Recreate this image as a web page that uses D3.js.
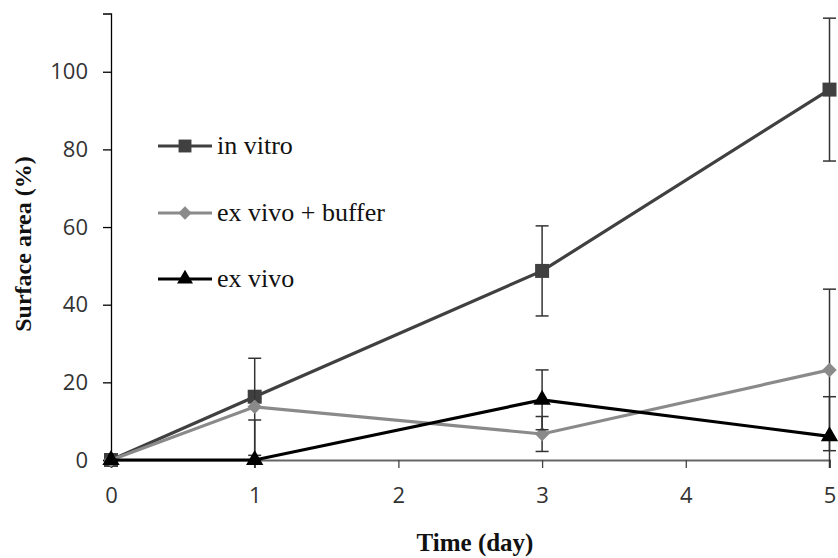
<!DOCTYPE html>
<html><head><meta charset="utf-8">
<script src="https://cdn.jsdelivr.net/npm/d3@7"></script>
<style>
html,body{margin:0;padding:0;background:#fff;}
svg{display:block;}
</style></head>
<body>
<svg id="chart" width="838" height="558"></svg>
<script>
// ---- data ----
const days = [0, 1, 3, 5];
const seriesNames = ["in vitro", "ex vivo + buffer", "ex vivo"];
const inVitro = [0, 16.3, 48.7, 95.4];
const inVitroErr = [0, 0.5, 11.6, 18.4];
const exVivoBuffer = [0, 13.7, 6.7, 23.2];
const exVivoBufferErr = [0, 12.5, 4.5, 20.8];
const exVivo = [0, 0, 15.5, 6.1];
const exVivoErr = [0, 10.3, 7.7, 10.2];
const xTicks = [0, 1, 2, 3, 4, 5];
const yTicks = [0, 20, 40, 60, 80, 100];
const yMax = 115;

// ---- layout ----
const svg = d3.select("#chart");
const x = d3.scaleLinear().domain([0, 5]).range([111, 829.5]);
const y = d3.scaleLinear().domain([0, yMax]).range([460, 13.5]);

const styles = [
  {color: "#404040", marker: d3.symbolSquare, size: 196, rot: 0},
  {color: "#8a8a8a", marker: d3.symbolSquare, size: 105, rot: 45},
  {color: "#000000", marker: d3.symbolTriangle, size: 130, rot: 0}
];
const series = [
  {name: seriesNames[0], values: inVitro, err: inVitroErr},
  {name: seriesNames[1], values: exVivoBuffer, err: exVivoBufferErr},
  {name: seriesNames[2], values: exVivo, err: exVivoErr}
];

// clip for plot area
svg.append("defs").append("clipPath").attr("id", "plotclip")
  .append("rect").attr("x", 100).attr("y", 0).attr("width", 738).attr("height", 468);

// axes
const tickFont = "'Open Sans', sans-serif";
const yAxis = svg.append("g").attr("transform", `translate(${x(0)},0)`)
  .call(d3.axisLeft(y).tickValues(yTicks).tickFormat(d3.format("d")).tickSize(8).tickPadding(15));
yAxis.select(".domain").attr("stroke", "#000").attr("stroke-width", 1.3);
yAxis.selectAll(".tick line").attr("stroke", "#000").attr("stroke-width", 1.3);
yAxis.selectAll("text").attr("font-family", tickFont).attr("font-size", 22).attr("fill", "#333");

const xAxis = svg.append("g").attr("transform", `translate(0,${y(0)})`)
  .call(d3.axisBottom(x).tickValues(xTicks).tickFormat(d3.format("d")).tickSize(8).tickPadding(19));
xAxis.select(".domain").attr("stroke", "#666").attr("stroke-width", 2);
xAxis.selectAll(".tick line").attr("stroke", "#444").attr("stroke-width", 1.3);
xAxis.selectAll("text").attr("font-family", tickFont).attr("font-size", 22).attr("fill", "#333");

// axis titles
svg.append("text")
  .attr("transform", `translate(31,${244}) rotate(-90)`)
  .attr("text-anchor", "middle")
  .attr("font-family", "'Liberation Serif', 'Times New Roman', serif")
  .attr("font-weight", "bold").attr("font-size", 24).attr("fill", "#111")
  .text("Surface area (%)");
svg.append("text")
  .attr("x", 475).attr("y", 551)
  .attr("text-anchor", "middle")
  .attr("font-family", "'Liberation Serif', 'Times New Roman', serif")
  .attr("font-weight", "bold").attr("font-size", 25).attr("fill", "#111")
  .text("Time (day)");

// series
const plot = svg.append("g");
const line = d3.line().x((d, i) => x(days[i])).y(d => y(d));
series.forEach((s, si) => {
  const st = styles[si];
  const g = plot.append("g");
  // error bars
  const eb = g.append("g").attr("clip-path", "url(#plotclip)")
    .attr("stroke", "#333").attr("stroke-width", 1.5);
  s.values.forEach((v, i) => {
    const e = s.err[i];
    if (!e) return;
    const cx = x(days[i]);
    eb.append("line").attr("x1", cx).attr("x2", cx).attr("y1", y(v + e)).attr("y2", y(v - e));
    eb.append("line").attr("x1", cx - 6.5).attr("x2", cx + 6.5).attr("y1", y(v + e)).attr("y2", y(v + e));
    eb.append("line").attr("x1", cx - 6.5).attr("x2", cx + 6.5).attr("y1", y(v - e)).attr("y2", y(v - e));
  });
  g.append("path").datum(s.values).attr("d", line)
    .attr("fill", "none").attr("stroke", st.color).attr("stroke-width", 3.2);
  g.selectAll("path.m").data(s.values).enter().append("path").attr("class", "m")
    .attr("d", d3.symbol().type(st.marker).size(st.size))
    .attr("transform", (d, i) => `translate(${x(days[i])},${y(d)}) rotate(${st.rot})`)
    .attr("fill", st.color);
});

// legend
const legendY = [146, 213, 279];
const leg = svg.append("g");
series.forEach((s, si) => {
  const st = styles[si];
  const gy = legendY[si];
  leg.append("line").attr("x1", 158).attr("x2", 212).attr("y1", gy).attr("y2", gy)
    .attr("stroke", st.color).attr("stroke-width", 3.2);
  leg.append("path").attr("d", d3.symbol().type(st.marker).size(st.size * 0.85))
    .attr("transform", `translate(185,${gy}) rotate(${st.rot})`).attr("fill", st.color);
  leg.append("text").attr("x", 217).attr("y", gy + 8)
    .attr("font-family", "'Liberation Serif', 'Times New Roman', serif")
    .attr("font-size", 26).attr("fill", "#111")
    .text(s.name);
});
</script>
</body></html>
